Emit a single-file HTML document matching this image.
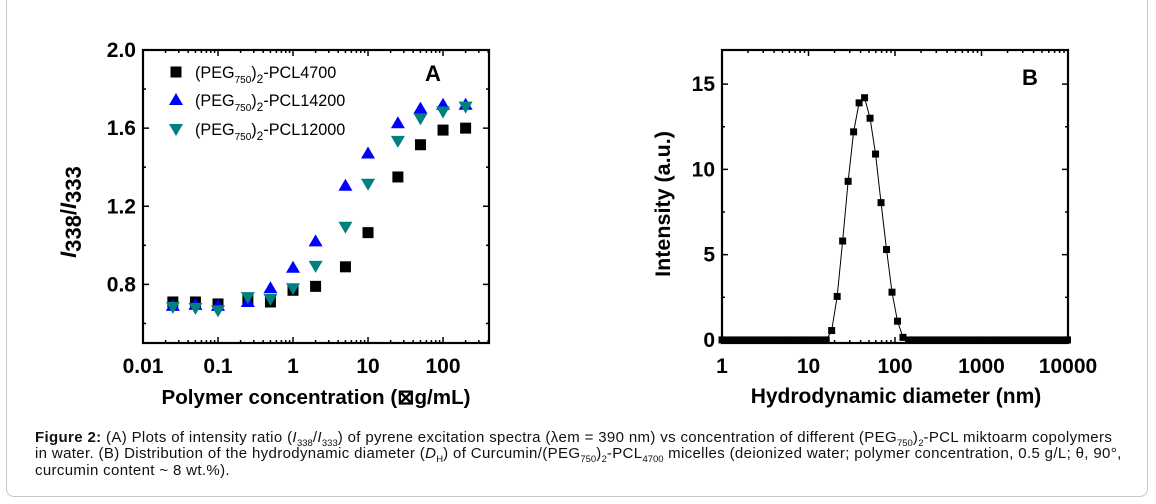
<!DOCTYPE html>
<html><head><meta charset="utf-8"><style>
body{margin:0;background:#fff;width:1156px;height:504px;overflow:hidden;position:relative;font-family:"Liberation Sans",Arial,sans-serif}
#frame{position:absolute;left:6px;top:-10px;width:1142px;height:507px;border:1px solid #c8c8c8;border-radius:8px;box-sizing:border-box}
#cap{position:absolute;left:35px;top:430px;white-space:nowrap;font-size:15px;letter-spacing:0.35px;line-height:16.4px;color:#111}
#cap sub{font-size:9.5px;line-height:0;letter-spacing:0}
</style></head><body>
<div id="frame"></div>
<svg id="svg" width="1156" height="504" style="position:absolute;left:0;top:0"></svg>
<div id="cap"><b>Figure 2:</b> (A) Plots of intensity ratio (<i>I</i><sub>338</sub>/<i>I</i><sub>333</sub>) of pyrene excitation spectra (λem = 390 nm) vs concentration of different (PEG<sub>750</sub>)<sub>2</sub>-PCL miktoarm copolymers<br>in water. (B) Distribution of the hydrodynamic diameter (<i>D</i><sub>H</sub>) of Curcumin/(PEG<sub>750</sub>)<sub>2</sub>-PCL<sub>4700</sub> micelles (deionized water; polymer concentration, 0.5 g/L; θ, 90°,<br>curcumin content ~ 8 wt.%).</div>
<script>
// Chart A data
const concA=[0.025,0.05,0.1,0.25,0.5,1,2,5,10,25,50,100,200];
const pcl4700=[0.71,0.71,0.70,0.72,0.71,0.77,0.79,0.89,1.065,1.35,1.515,1.59,1.60];
const pcl14200=[0.69,0.695,0.69,0.71,0.78,0.885,1.02,1.305,1.47,1.625,1.70,1.72,1.72];
const pcl12000=[0.685,0.68,0.667,0.735,0.725,0.78,0.895,1.095,1.315,1.535,1.65,1.685,1.71];
const yTicksA=[0.8,1.2,1.6,2.0];
const xTicksA=[0.01,0.1,1,10,100];
// Chart B data
const binStep=0.0634;
const intensityB=[0,0,0,0,0,0,0,0,0,0,0,0,0,0,0,0,0,0,0,0,
0.55,2.55,5.8,9.3,12.2,13.9,14.2,13.0,10.9,8.05,5.3,2.8,1.1,0.15,
0,0,0,0,0,0,0,0,0,0,0,0,0,0,0,0,0,0,0,0,0,0,0,0,0,0,0,0,0,0];
const diamB=intensityB.map((v,i)=>Math.pow(10,i*binStep));
const yTicksB=[0,5,10,15];
const xTicksB=[1,10,100,1000,10000];

const NS="http://www.w3.org/2000/svg",svg=document.getElementById('svg');
function el(t,a,p){const e=document.createElementNS(NS,t);for(const k in a)e.setAttribute(k,a[k]);(p||svg).appendChild(e);return e;}
function txt(s,a,p){const e=el('text',a,p);e.textContent=s;return e;}

// ---- Chart A ----
const A={l:143,r:489,t:50,b:343,xmin:-2,xmax:Math.log10(410),ymin:0.5,ymax:2.0};
const xA=v=>A.l+(Math.log10(v)-A.xmin)/(A.xmax-A.xmin)*(A.r-A.l);
const yA=v=>A.b-(v-A.ymin)/(A.ymax-A.ymin)*(A.b-A.t);
const gA=el('g',{});


el('rect',{x:A.l,y:A.t,width:A.r-A.l,height:A.b-A.t,fill:'none',stroke:'#000','stroke-width':2.2},gA);
for(let d=-2;d<=2;d++){for(let m=1;m<10;m++){const v=m*Math.pow(10,d);if(v>410)break;const x=xA(v);const L=m==1?6:3;
el('line',{x1:x,x2:x,y1:A.b,y2:A.b-L,stroke:'#000','stroke-width':1.5},gA);el('line',{x1:x,x2:x,y1:A.t,y2:A.t+L,stroke:'#000','stroke-width':1.5},gA);}}
for(let k=1;k<8;k++){const v=0.4+k*0.2;const y=yA(v);const L=k%2==0?6:3;
el('line',{x1:A.l,x2:A.l+L,y1:y,y2:y,stroke:'#000','stroke-width':1.5},gA);el('line',{x1:A.r,x2:A.r-L,y1:y,y2:y,stroke:'#000','stroke-width':1.5},gA);}
yTicksA.forEach(v=>{const t=txt(v.toFixed(1),{x:A.l-7,y:yA(v)+7,'text-anchor':'end','font-size':21,'font-weight':'bold'},gA);});
xTicksA.forEach(v=>{const t=txt(String(v),{x:xA(v),y:A.b+30,'text-anchor':'middle','font-size':21,'font-weight':'bold'},gA);});
const xtA=txt('Polymer concentration (\u22a0g/mL)',{x:316,y:404,'text-anchor':'middle','font-size':20.6,'font-weight':'bold'},gA);

const ytA=el('text',{transform:'translate(76,212) rotate(-90)','text-anchor':'middle','font-size':22,'font-weight':'bold'},gA);

ytA.innerHTML='<tspan font-style="italic">I</tspan><tspan dy="5">338</tspan><tspan dy="-5">/</tspan><tspan font-style="italic">I</tspan><tspan dy="5">333</tspan>';
const lA=txt('A',{x:433,y:81,'text-anchor':'middle','font-size':22,'font-weight':'bold'},gA);
function sq(x,y,c,g){return el('rect',{x:x-5.5,y:y-5.5,width:11,height:11,fill:c},g);}
function up(x,y,c,g){return el('polygon',{points:`${x},${y-7} ${x-7},${y+5} ${x+7},${y+5}`,fill:c},g);}
function dn(x,y,c,g){return el('polygon',{points:`${x},${y+7} ${x-7},${y-5} ${x+7},${y-5}`,fill:c},g);}
concA.forEach((c,i)=>{const m=sq(xA(c),yA(pcl4700[i]),'#000',gA);});
concA.forEach((c,i)=>{const m=up(xA(c),yA(pcl14200[i]),'#0000ff',gA);});
concA.forEach((c,i)=>{const m=dn(xA(c),yA(pcl12000[i]),'#008080',gA);});
// legend
const leg=[['sq','#000','4700',72],['up','#0000ff','14200',100],['dn','#008080','12000',129]];
leg.forEach(([s,c,n,y])=>{const g=el('g',{},gA);
({sq,up,dn})[s](176,y,c,g);
const t=el('text',{x:195,y:y+6,'font-size':16.2},g);
t.innerHTML='(PEG<tspan font-size="10" dy="5">750</tspan><tspan dy="-5">)</tspan><tspan font-size="12" dy="5">2</tspan><tspan dy="-5">-PCL'+n+'</tspan>';});

// ---- Chart B ----
const B={l:722,r:1068,t:50,b:343,xmin:0,xmax:4,ymin:-0.18,ymax:17};
const xB=v=>B.l+(Math.log10(v)-B.xmin)/(B.xmax-B.xmin)*(B.r-B.l);
const yB=v=>B.b-(v-B.ymin)/(B.ymax-B.ymin)*(B.b-B.t);
const gB=el('g',{});


el('rect',{x:B.l,y:B.t,width:B.r-B.l,height:B.b-B.t,fill:'none',stroke:'#000','stroke-width':2.2},gB);
for(let d=0;d<4;d++){for(let m=1;m<10;m++){const x=xB(m*Math.pow(10,d));const L=m==1?6:3;
el('line',{x1:x,x2:x,y1:B.b,y2:B.b-L,stroke:'#000','stroke-width':1.5},gB);el('line',{x1:x,x2:x,y1:B.t,y2:B.t+L,stroke:'#000','stroke-width':1.5},gB);}}
for(let v=0;v<=15;v+=2.5){const y=yB(v);const L=v%5==0?6:3;
el('line',{x1:B.l,x2:B.l+L,y1:y,y2:y,stroke:'#000','stroke-width':1.5},gB);el('line',{x1:B.r,x2:B.r-L,y1:y,y2:y,stroke:'#000','stroke-width':1.5},gB);}
yTicksB.forEach(v=>{const t=txt(String(v),{x:B.l-7,y:yB(v)+7,'text-anchor':'end','font-size':21,'font-weight':'bold'},gB);});
xTicksB.forEach(v=>{const t=txt(String(v),{x:xB(v),y:B.b+30,'text-anchor':'middle','font-size':21,'font-weight':'bold'},gB);});
const xtB=txt('Hydrodynamic diameter (nm)',{x:896,y:403,'text-anchor':'middle','font-size':21,'font-weight':'bold'},gB);

const ytB=txt('Intensity (a.u.)',{transform:'translate(670,204) rotate(-90)','text-anchor':'middle','font-size':21.5,'font-weight':'bold'},gB);

const lB=txt('B',{x:1030,y:85,'text-anchor':'middle','font-size':22,'font-weight':'bold'},gB);
const ln=el('polyline',{points:diamB.map((d,i)=>xB(d)+','+yB(intensityB[i])).join(' '),fill:'none',stroke:'#000','stroke-width':1},gB);

diamB.forEach((d,i)=>{const m=el('rect',{x:xB(d)-3.5,y:yB(intensityB[i])-3.5,width:7,height:7,fill:'#000'},gB);});
</script>
</body></html>
